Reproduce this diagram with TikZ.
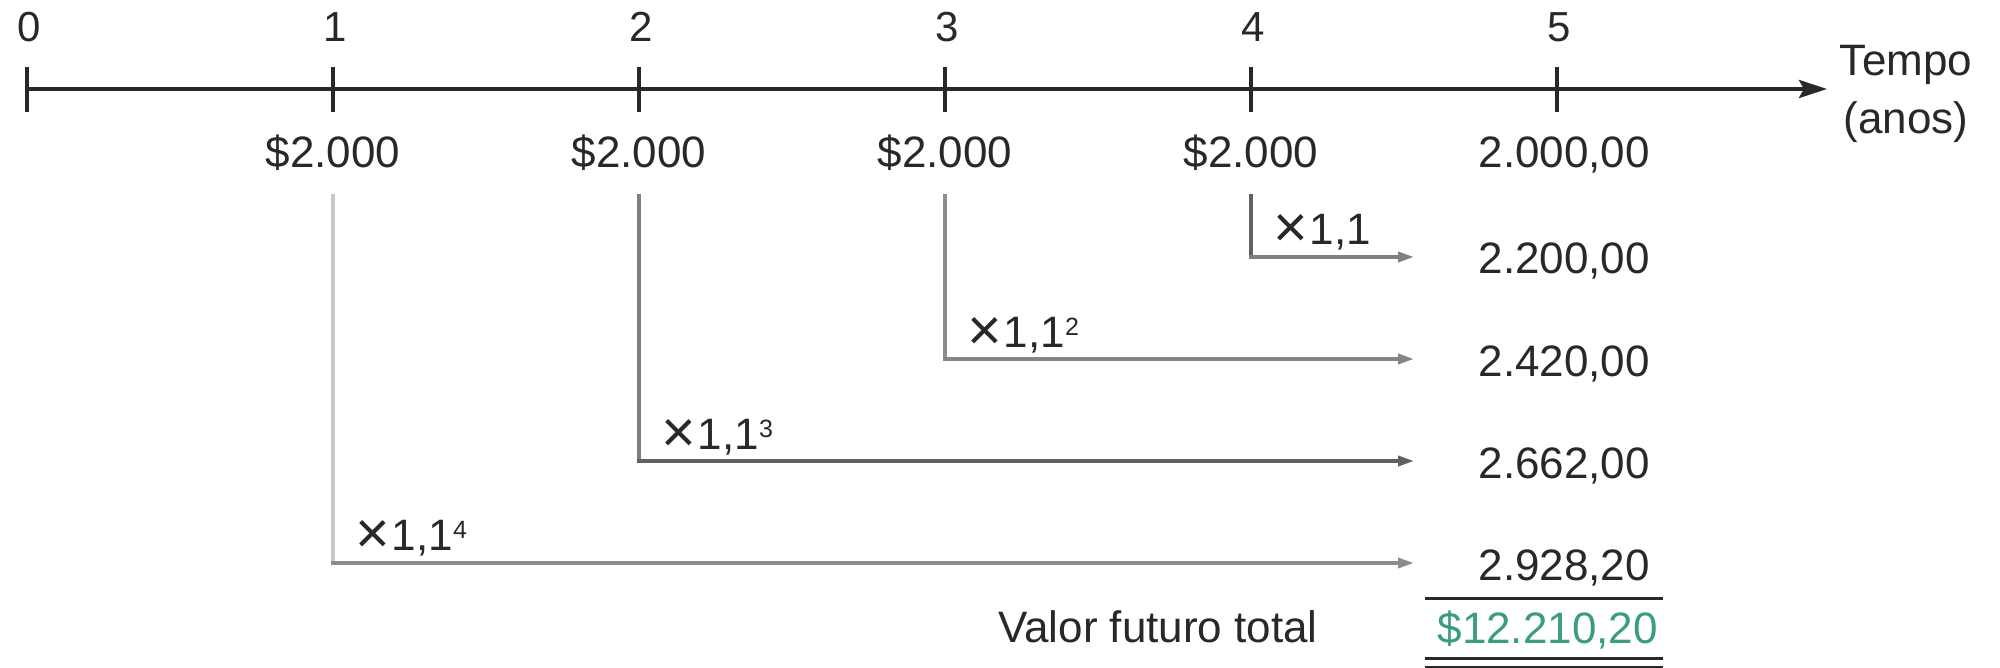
\documentclass[tikz,border=0pt]{standalone}
\usepackage{fontspec}
\setmainfont{Liberation Sans}
\usetikzlibrary{arrows.meta}
\definecolor{txt}{HTML}{2A2728}
\definecolor{tot}{HTML}{3A9C80}
\tikzset{
  lbl/.style={inner sep=0pt, text=txt, font=\fontsize{44}{44}\selectfont},
  ticklbl/.style={inner sep=0pt, text=txt, font=\fontsize{42}{42}\selectfont, anchor=base},
  val/.style={lbl, anchor=base east},
  mult/.style={lbl, anchor=base west},
  conn/.style={line width=3.5pt, -{Triangle[length=16pt,width=10pt]}},
  axisline/.style={line width=4pt, color=txt},
}
\newcommand{\sx}[1]{\raisebox{12pt}{\fontsize{25}{25}\selectfont #1}}
\newcommand{\tms}{\raisebox{-3pt}{\scalebox{1.35}{×}}\hspace{2pt}}
\begin{document}
\begin{tikzpicture}[x=1pt,y=-1pt]
\useasboundingbox (0,0) rectangle (2000,668);
% axis
\coordinate (a0) at (27,89);
\coordinate (aend) at (1827,89);
\draw[axisline, -{Stealth[length=28pt,width=18pt,inset=5pt]}] (a0) -- (aend);
\foreach \i/\x in {0/27,1/333,2/639,3/945,4/1251,5/1557}{
  \coordinate (t\i) at (\x,89);
  \draw[axisline] (\x,67) -- (\x,112);
  \node[ticklbl] (n\i) at (\x+2,42) {\i};
}
\node[lbl, anchor=base] (tempo) at (1906,76) {Tempo};
\node[lbl, anchor=base] (anos) at (1906,134) {(anos)};
% payments
\foreach \i/\x in {1/333,2/639,3/945,4/1251}{
  \node[lbl, anchor=base] (p\i) at (\x,168) {\$2.000};
}
% values
\node[val] (v0) at (1650,168) {2.000,00};
\node[val] (v4) at (1650,274) {2.200,00};
\node[val] (v3) at (1650,376) {2.420,00};
\node[val] (v2) at (1650,478) {2.662,00};
\node[val] (v1) at (1650,580) {2.928,20};
% connectors
\coordinate (s4) at (1251,194); \coordinate (c4) at (1251,257); \coordinate (e4) at (1414,257);
\coordinate (s3) at (945,194);  \coordinate (c3) at (945,359);  \coordinate (e3) at (1414,359);
\coordinate (s2) at (639,194);  \coordinate (c2) at (639,461);  \coordinate (e2) at (1414,461);
\coordinate (s1) at (333,194);  \coordinate (c1) at (333,563);  \coordinate (e1) at (1414,563);
\draw[line width=3.5pt, color=black!62] (s4) -- (c4);
\draw[conn, color=black!50] ([xshift=-1.75pt]c4) -- (e4);
\draw[line width=3.5pt, color=black!45] (s3) -- (c3);
\draw[conn, color=black!48] ([xshift=-1.75pt]c3) -- (e3);
\draw[line width=3.5pt, color=black!50] (s2) -- (c2);
\draw[conn, color=black!62] ([xshift=-1.75pt]c2) -- (e2);
\draw[line width=4.5pt, color=black!22] (s1) -- (c1);
\draw[conn, color=black!45] ([xshift=-2.25pt]c1) -- (e1);
% multipliers
\node[mult] (m4) at (1273,245) {\tms1,1};
\node[mult] (m3) at (967,347) {\tms1,1\sx{2}};
\node[mult] (m2) at (661,449) {\tms1,1\sx{3}};
\node[mult] (m1) at (355,550) {\tms1,1\sx{4}};
% total
\coordinate (ul) at (1425,598); \coordinate (ur) at (1663,598);
\draw[line width=3pt, color=txt] (ul) -- (ur);
\node[lbl, anchor=base east] (vft) at (1318,642) {Valor futuro total};
\node[lbl, anchor=base east, text=tot] (total) at (1658,643) {\$12.210,20};
\coordinate (dl) at (1425,658); \coordinate (dr) at (1663,658);
\draw[line width=3pt, color=txt] (dl) -- (dr);
\draw[line width=2pt, color=txt] (1425,667) -- (1663,667);
\end{tikzpicture}
\end{document}
